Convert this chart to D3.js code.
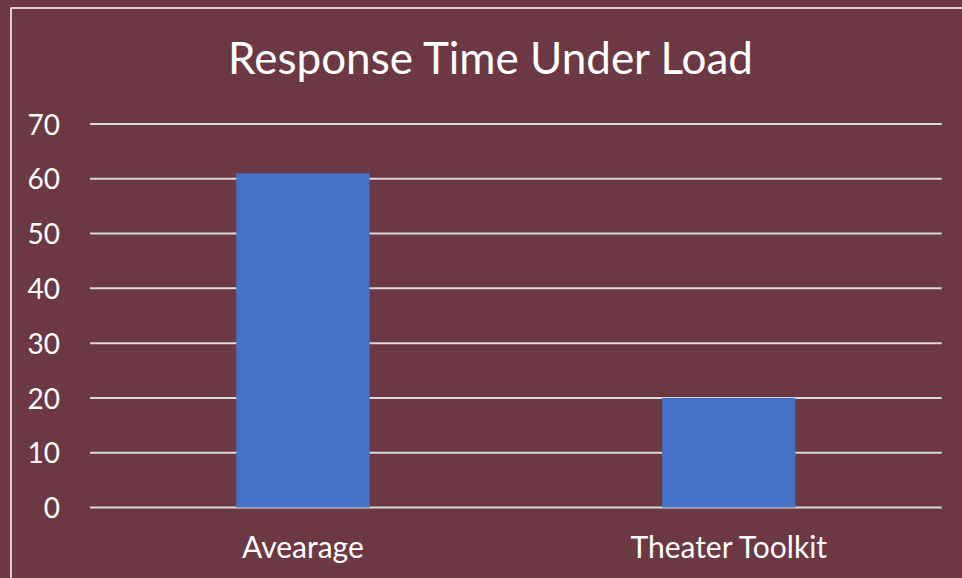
<!DOCTYPE html>
<html>
<head>
<meta charset="utf-8">
<script src="https://cdn.jsdelivr.net/npm/d3@7"></script>
<style>
html,body{margin:0;padding:0;background:#6B3843;overflow:hidden;}
svg{display:block;}
text{font-family:Lato,"Open Sans",sans-serif;fill:#FFFFFF;}
</style>
</head>
<body>
<svg id="chart" width="962" height="578"></svg>
<script>
const title = "Response Time Under Load";
const categories = ["Avearage", "Theater Toolkit"];
const values = [61, 20];
const yTicks = [0, 10, 20, 30, 40, 50, 60, 70];

const W = 962, H = 578;
const svg = d3.select("#chart");
svg.append("rect").attr("width", W).attr("height", H).attr("fill", "#6B3843");
svg.append("rect").attr("x", 11).attr("y", 8).attr("width", 970).attr("height", 600)
  .attr("fill", "none").attr("stroke", "#FFFFFF").attr("stroke-width", 1.5);

const plot = {left: 90, right: 941.7, top: 124, bottom: 507.5};

const x = d3.scaleBand().domain(categories).range([plot.left, plot.right])
  .paddingInner(0.687).paddingOuter(0.3435);
const y = d3.scaleLinear().domain([0, 70]).range([plot.bottom, plot.top]);

// gridlines
svg.append("g").selectAll("line").data(yTicks).join("line")
  .attr("x1", plot.left).attr("x2", plot.right)
  .attr("y1", d => y(d)).attr("y2", d => y(d))
  .attr("stroke", "#D9D9D9").attr("stroke-width", 2);

// y axis labels
const yAxis = d3.axisLeft(y).tickValues(yTicks).tickSize(0).tickPadding(0);
const ya = svg.append("g").attr("transform", `translate(60,0)`).call(yAxis);
ya.select(".domain").remove();
ya.selectAll("text").attr("fill", "#FFFFFF").style("fill", "#FFFFFF")
  .attr("font-size", 28).attr("font-family", "Lato").attr("dy", "0.36em");

// bars
svg.append("g").selectAll("rect").data(values).join("rect")
  .attr("x", (d, i) => x(categories[i]))
  .attr("width", x.bandwidth())
  .attr("y", d => y(d))
  .attr("height", d => y(0) - y(d))
  .attr("fill", "#4472C4");

// x axis labels
const xAxis = d3.axisBottom(x).tickSize(0).tickPadding(0);
const xa = svg.append("g").attr("transform", `translate(0,558)`).call(xAxis);
xa.select(".domain").remove();
xa.selectAll("text").attr("fill", "#FFFFFF").style("fill", "#FFFFFF")
  .attr("font-size", 30).attr("font-family", "Lato").attr("dy", 0).attr("y", 0);

// title
svg.append("text").attr("x", 490.5).attr("y", 74).attr("text-anchor", "middle")
  .attr("font-size", 44).text(title);
</script>
</body>
</html>
